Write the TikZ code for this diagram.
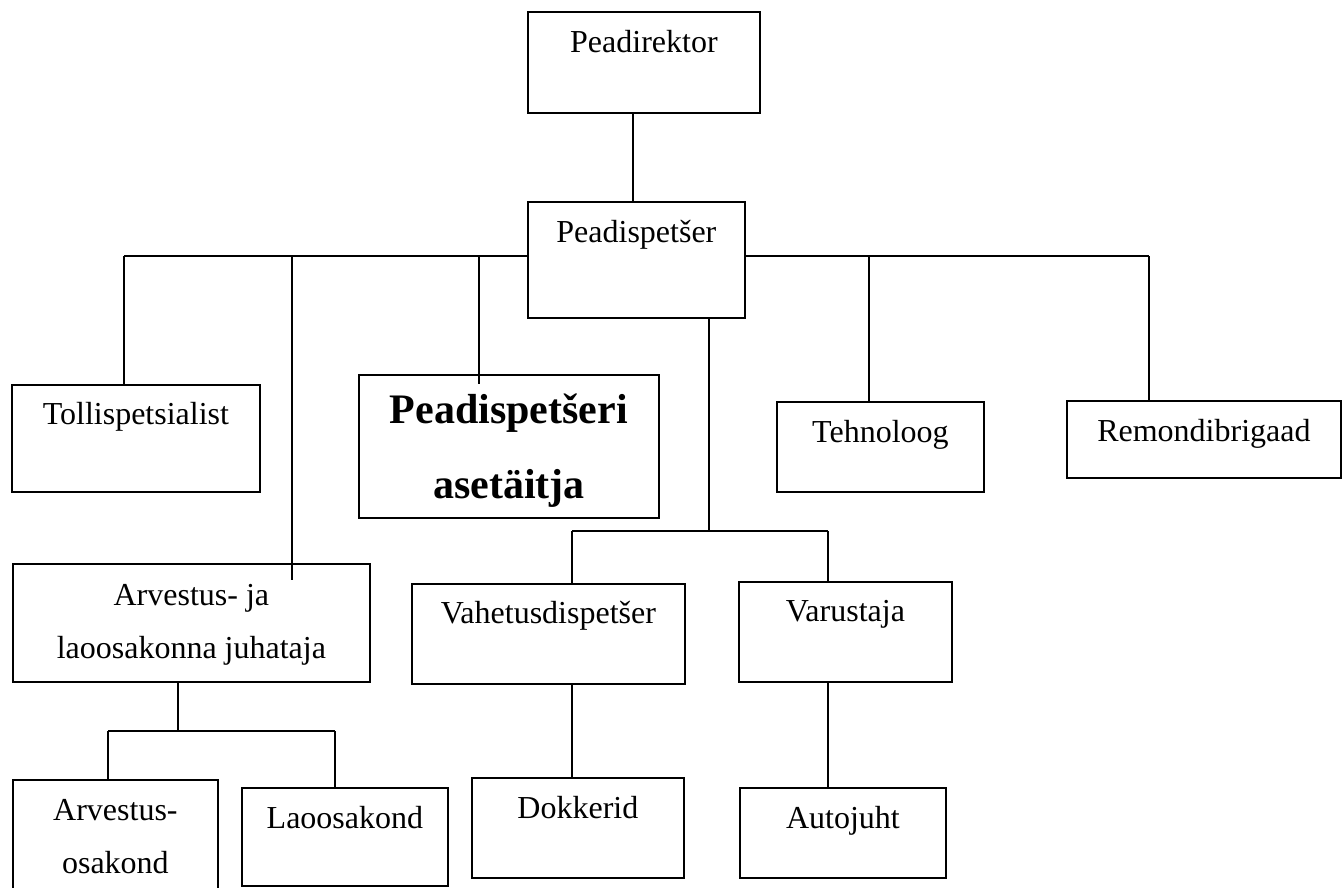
\documentclass[tikz,border=0pt]{standalone}
\usepackage{fontspec}
\setmainfont{Liberation Serif}

\begin{document}
\begin{tikzpicture}[
	x=1pt, y=-1pt,
	post/.style={draw, line width=1.8pt, anchor=north west, inner sep=0pt,
		align=center, font=\fontsize{32}{53}\selectfont},
	postbold/.style={post, font=\fontsize{42}{75}\selectfont\bfseries},
	link/.style={draw, line width=1.4pt},
	]
	\useasboundingbox (0,0) rectangle (1342,888);
	
	% juhtkond
	\node[post, minimum width=232pt, text height=41pt, text depth=60pt] (dir) at (527,11) {Peadirektor};
	\node[post, minimum width=217pt, text height=41pt, text depth=75pt] (disp) at (527,201) {Peadispet\v{s}er};
	
	% teine tase
	\node[post, minimum width=248pt, text height=40pt, text depth=67pt] (toll) at (11,384) {Tollispetsialist};
	\node[postbold, minimum width=300pt, text height=124pt, text depth=19pt] (ase) at (358,374) {Peadispet\v{s}eri\\aset\"aitja};
	\node[post, minimum width=207pt, text height=41pt, text depth=49pt] (tehno) at (776,401) {Tehnoloog};
	\node[post, minimum width=274pt, text height=41pt, text depth=36pt] (remont) at (1066,400) {Remondibrigaad};
	\node[post, minimum width=357pt, text height=95pt, text depth=23pt] (arv) at (12,563) {Arvestus- ja\\laoosakonna juhataja};
	\node[post, minimum width=273pt, text height=40pt, text depth=60pt] (vahet) at (411,583) {Vahetusdispet\v{s}er};
	\node[post, minimum width=213pt, text height=40pt, text depth=60pt] (varus) at (738,581) {Varustaja};
	
	% alumine tase
	\node[post, minimum width=205pt, text height=94pt, text depth=17pt] (arvos) at (12,779) {Arvestus-\\osakond};
	\node[post, minimum width=206pt, text height=41pt, text depth=57pt] (lao) at (241,787) {Laoosakond};
	\node[post, minimum width=212pt, text height=41pt, text depth=59pt] (dokk) at (471,777) {Dokkerid};
	\node[post, minimum width=206pt, text height=41pt, text depth=49pt] (auto) at (739,787) {Autojuht};
	
	% peadirektor -> peadispetser
	\coordinate (d) at (633,0);
	\draw[link] (d |- dir.south) -- (d |- disp.north);
	
	% peadispetseri siin
	\coordinate (b1) at (124,256);
	\coordinate (b2) at (292,256);
	\coordinate (b3) at (479,256);
	\coordinate (b4) at (869,256);
	\coordinate (b5) at (1149,256);
	\draw[link] (b1) -- (b1 -| disp.west);
	\draw[link] (disp.east |- b5) -- (b5);
	\draw[link] (b1) -- (b1 |- toll.north);
	\draw[link] (b2) -- ([yshift=-17pt]b2 |- arv.north);
	\draw[link] (b3) -- ([yshift=-10pt]b3 |- ase.north);
	\draw[link] (b4) -- (b4 |- tehno.north);
	\draw[link] (b5) -- (b5 |- remont.north);
	
	% vahetusdispetser ja varustaja
	\coordinate (m) at (709,531);
	\coordinate (mL) at (572,531);
	\coordinate (mR) at (828,531);
	\draw[link] (m |- disp.south) -- (m);
	\draw[link] (mL) -- (mR);
	\draw[link] (mL) -- (mL |- vahet.north);
	\draw[link] (mR) -- (mR |- varus.north);
	\draw[link] (mL |- vahet.south) -- (mL |- dokk.north);
	\draw[link] (mR |- varus.south) -- (mR |- auto.north);
	
	% arvestus- ja laoosakond
	\coordinate (a) at (178,731);
	\coordinate (aL) at (108,731);
	\coordinate (aR) at (335,731);
	\draw[link] (a |- arv.south) -- (a);
	\draw[link] (aL) -- (aR);
	\draw[link] (aL) -- (aL |- arvos.north);
	\draw[link] (aR) -- (aR |- lao.north);
	
\end{tikzpicture}
\end{document}
